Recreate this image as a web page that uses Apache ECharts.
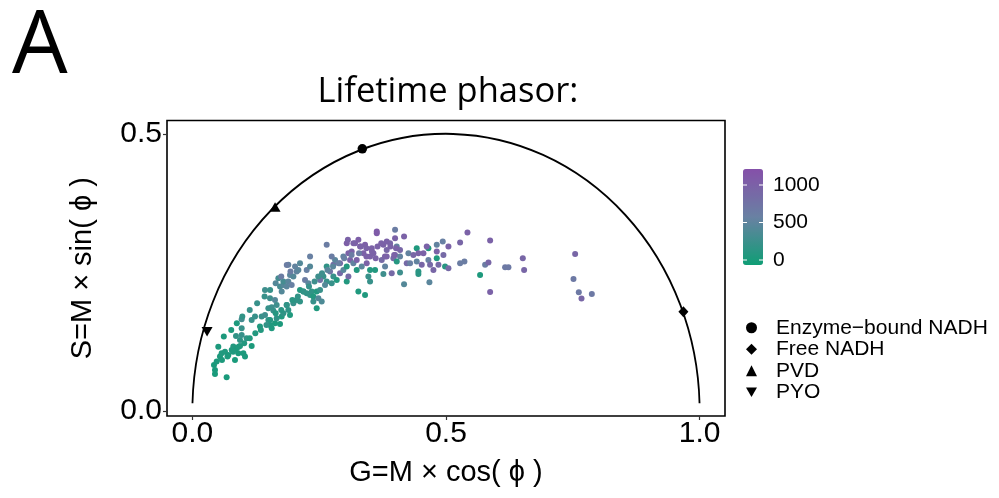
<!DOCTYPE html>
<html>
<head>
<meta charset="utf-8">
<script src="https://cdn.jsdelivr.net/npm/echarts@6/dist/echarts.min.js"></script>
<style>
html, body { margin: 0; padding: 0; background: #fff; }
#chart { width: 999px; height: 498px; }
</style>
</head>
<body>
<div id="chart"></div>
<script>
// phasor coordinates (G = x, S = y) and the colour value of each point
var gCoord = [
  0.0676,0.0446,0.0446,0.0426,0.0479,0.0544,0.0577,0.0643,0.0709,0.0775,
  0.0807,0.0873,0.0939,0.0906,0.084,0.1005,0.1038,0.1169,0.0939,0.086,
  0.0972,0.107,0.0972,0.0972,0.1169,0.1235,0.1333,0.1366,0.1432,0.1498,
  0.1531,0.1564,0.1629,0.1728,0.1662,0.1761,0.1794,0.1892,0.1925,0.1859,
  0.1991,0.2057,0.2122,0.1432,0.1531,0.1629,0.1662,0.1564,0.1498,0.1596,
  0.1728,0.1794,0.1761,0.1794,0.1695,0.1892,0.1925,0.1892,0.2024,0.2057,
  0.2122,0.209,0.1991,0.1958,0.1859,0.2254,0.232,0.232,0.2221,0.2287,
  0.2122,0.2188,0.2254,0.232,0.2353,0.2385,0.2451,0.2517,0.2484,0.255,
  0.2451,0.2385,0.2648,0.2648,0.2714,0.2583,0.2648,0.2517,0.2615,0.2747,
  0.278,0.2846,0.278,0.2813,0.2747,0.2911,0.2977,0.3043,0.3043,0.3076,
  0.2911,0.2977,0.3076,0.3109,0.3174,0.324,0.3141,0.3043,0.3207,0.3273,
  0.3306,0.3372,0.324,0.3273,0.3404,0.3339,0.3437,0.3503,0.3569,0.3404,
  0.3536,0.3635,0.3635,0.347,0.3503,0.3503,0.3602,
  0.3996,0.4173,0.3996,0.3766,0.3897,0.4029,0.3831,0.4094,0.4259,0.4423,
  0.4653,0.4818,0.4936,0.5048,0.462,0.4555,0.4818,0.4949,0.4456,0.4357,
  0.3996,0.3831,0.3733,0.3963,0.4094,0.3799,0.4029,0.4226,0.4292,0.4423,
  0.4522,0.4653,0.4686,0.4818,0.4851,0.4982,0.5048,0.4752,0.393,0.4094,
  0.3766,0.4456,0.4456,0.4173,0.4673,0.5278,0.5423,0.5278,0.5363,0.5672,
  0.5771,0.5837,0.587,0.587,0.6165,0.6231,0.6514,0.654,0.7546,0.7513,
  0.7618,0.7671,0.7875,
  0.3066,0.3175,0.3321,0.3431,0.354,0.365,0.3723,0.3832,0.3905,0.4015,
  0.3978,0.3796,0.3613,0.3431,0.3285,0.3139,0.2993,0.2883,0.2774,0.2664,
  0.2555,0.2482,0.2409,0.2299,0.219,0.208,0.1971,0.1861,0.1752,0.1642,
  0.1533,0.146,0.135,0.1241,0.1131,0.1022,0.0912,0.0803,0.0693,0.0584,
  0.1861,0.1934,0.1752,0.1642,0.1533,0.1423,0.1277,0.1131,0.0985,0.0876,
  0.0766,0.062,0.0511
];
var sCoord = [
  0.0608,0.0668,0.074,0.0831,0.0891,0.0981,0.1041,0.1071,0.1011,0.1101,
  0.1162,0.1132,0.1174,0.1041,0.0921,0.1041,0.0981,0.1174,0.1282,0.1354,
  0.1372,0.1312,0.1493,0.1655,0.1643,0.1703,0.1523,0.1703,0.1733,0.1643,
  0.1553,0.1493,0.1583,0.1571,0.1673,0.1703,0.1763,0.1823,0.1733,0.1914,
  0.1944,0.2004,0.1974,0.2184,0.2034,0.2004,0.1914,0.1872,0.1854,0.1811,
  0.2245,0.2275,0.2154,0.2335,0.2395,0.2335,0.2455,0.2636,0.2606,0.2515,
  0.2666,0.2545,0.2425,0.2275,0.2245,0.2545,0.2606,0.2786,0.2365,0.2305,
  0.2184,0.2154,0.2124,0.2094,0.2154,0.2064,0.2154,0.2184,0.2034,0.1974,
  0.1854,0.1974,0.2997,0.2606,0.2515,0.2425,0.2335,0.2365,0.2275,0.2305,
  0.2425,0.2365,0.2636,0.2726,0.2786,0.2485,0.2545,0.2606,0.2335,0.2425,
  0.2666,0.2786,0.2846,0.2726,0.2666,0.2726,0.2876,0.3027,0.3027,0.3087,
  0.2967,0.2846,0.2545,0.2154,0.2094,0.2606,0.2666,0.2786,0.2846,0.2997,
  0.2937,0.3207,0.3237,0.2425,0.2335,0.2545,0.2545,
  0.3268,0.3147,0.3117,0.2997,0.3027,0.2967,0.2906,0.2906,0.2846,0.2937,
  0.2937,0.2997,0.3057,0.2967,0.2967,0.2846,0.2876,0.2816,0.2846,0.2816,
  0.2816,0.2786,0.2726,0.2756,0.2786,0.2606,0.2696,0.2666,0.2666,0.2696,
  0.2636,0.2726,0.2636,0.2756,0.2636,0.2606,0.2576,0.2545,0.2485,0.2497,
  0.2473,0.2515,0.2473,0.2287,0.2323,0.3039,0.3219,0.2666,0.2696,0.2455,
  0.2636,0.2678,0.3075,0.2148,0.2594,0.2594,0.2756,0.2545,0.2834,0.2383,
  0.2142,0.2028,0.2112,
  0.3087,0.3026,0.2966,0.2936,0.2876,0.2966,0.3026,0.3057,0.2966,0.2936,
  0.2816,0.2786,0.2756,0.2786,0.2846,0.2816,0.2756,0.2665,0.2605,0.2545,
  0.2485,0.2425,0.2335,0.2244,0.2154,0.2064,0.2004,0.1913,0.1823,0.1763,
  0.1643,0.1552,0.1462,0.1402,0.1312,0.1221,0.1161,0.1071,0.0981,0.0921,
  0.2635,0.2515,0.2425,0.2304,0.2184,0.2064,0.1943,0.1823,0.1703,0.1582,
  0.1462,0.1342,0.1161
];
var colorValue = [
  40,40,40,40,60,60,80,80,60,80,
  100,60,80,60,40,60,60,50,200,200,
  250,200,250,350,250,250,80,250,300,200,
  80,80,60,60,200,100,200,200,80,250,
  250,200,200,300,300,450,300,300,250,250,
  350,450,450,350,350,500,500,550,550,550,
  450,500,450,600,500,600,450,600,650,500,
  100,100,200,200,200,100,100,250,450,400,
  80,250,650,200,750,250,250,800,450,250,
  250,100,900,500,650,900,500,100,100,900,
  950,550,1000,1000,550,1000,1000,1050,1050,1050,
  1000,1000,100,80,80,500,1000,1000,1000,1050,
  1000,1100,1100,250,250,100,100,
  650,1000,1000,1000,950,550,950,950,550,80,
  80,550,600,1000,1000,1000,1000,900,1000,950,
  950,1000,900,900,550,550,120,900,600,550,
  950,600,900,80,900,120,900,950,900,300,
  300,150,150,450,500,950,1000,650,650,60,
  650,950,1000,1000,700,700,950,950,950,700,
  700,950,700,
  1000,1000,1000,1000,1000,1000,1000,1000,1000,1000,
  1000,1000,1000,1000,650,650,600,600,500,500,
  300,300,300,250,200,200,150,200,150,120,
  120,200,100,100,100,100,80,80,60,60,
  650,650,650,450,250,250,250,250,200,60,
  60,60,60
];

// reference species on the universal circle
var refNames = ['Enzyme\u2212bound NADH', 'Free NADH', 'PVD', 'PYO'];
var refG = [0.335, 0.968, 0.163, 0.029];
var refS = [0.473, 0.179, 0.368, 0.143];

// universal semicircle: centre (G, S) and radius
var circleCenter = [0.5, 0];
var circleRadius = 0.5;

var xTicks = [0, 0.5, 1];
var yTicks = [0, 0.5];
var colorTicks = [0, 500, 1000];
var colorMin = -40, colorMax = 1240;

var AXIS_FONT = '"Liberation Sans", Arial, sans-serif';
var TITLE_FONT = '"Open Sans", sans-serif';
var DOWN_TRI = 'path://M0,0L10,0L5,8.66Z';

var points = gCoord.map(function (g, i) { return [g, sCoord[i], colorValue[i]]; });

// colour bar geometry (legend only)
var barLeft = 743, barTop = 167, barW = 20, barH = 96;
var barGraphics = [];
colorTicks.forEach(function (v) {
  var y = barTop + barH - (v - colorMin) / (colorMax - colorMin) * barH;
  barGraphics.push({type: 'line', shape: {x1: barLeft, y1: y, x2: barLeft + 4, y2: y}, style: {stroke: '#fff', lineWidth: 1}, z: 100});
  barGraphics.push({type: 'line', shape: {x1: barLeft + barW - 4, y1: y, x2: barLeft + barW, y2: y}, style: {stroke: '#fff', lineWidth: 1}, z: 100});
  barGraphics.push({type: 'text', x: barLeft + 30, y: y, style: {text: String(v), fill: '#000', font: '21px ' + AXIS_FONT, textVerticalAlign: 'middle', verticalAlign: 'middle'}, z: 100});
});

var chart = echarts.init(document.getElementById('chart'), null, {renderer: 'canvas'});

var option = {
  animation: false,
  backgroundColor: '#fff',
  title: [
    {text: 'A', left: 7, top: -1, textStyle: {fontFamily: TITLE_FONT, fontSize: 88, fontWeight: 'normal', color: '#000'}},
    {text: 'Lifetime phasor:', left: 443, textAlign: 'center', top: 70, textStyle: {fontFamily: TITLE_FONT, fontSize: 34.5, fontWeight: 'normal', color: '#000'}}
  ],
  grid: {
    left: 167, top: 120.5, width: 558, height: 295.5,
    show: true, borderColor: '#000', borderWidth: 1.6, backgroundColor: '#fff',
    outerBoundsMode: 'none', containLabel: false
  },
  xAxis: {
    type: 'value', min: -0.05, max: 1.05,
    axisLine: {show: false, onZero: false},
    splitLine: {show: false},
    axisTick: {show: true, length: 4, customValues: xTicks, lineStyle: {color: '#333', width: 1.2}},
    axisLabel: {customValues: xTicks, margin: 3, fontSize: 30, color: '#000', fontFamily: AXIS_FONT,
      formatter: function (v) { return v.toFixed(1); }},
    name: 'G=M \u00d7 cos( \u03d5 )', nameLocation: 'middle', nameGap: 42,
    nameTextStyle: {fontSize: 29, color: '#000', fontFamily: AXIS_FONT}
  },
  yAxis: {
    type: 'value', min: -0.009, max: 0.524,
    axisLine: {show: false, onZero: false},
    splitLine: {show: false},
    axisTick: {show: true, length: 4, customValues: yTicks, lineStyle: {color: '#333', width: 1.2}},
    axisLabel: {customValues: yTicks, margin: 5, fontSize: 30, color: '#000', fontFamily: AXIS_FONT,
      formatter: function (v) { return v.toFixed(1); }},
    name: 'S=M \u00d7 sin( \u03d5 )', nameLocation: 'middle', nameGap: 70,
    nameTextStyle: {fontSize: 29, color: '#000', fontFamily: AXIS_FONT}
  },
  visualMap: {
    type: 'continuous', min: colorMin, max: colorMax, dimension: 2, seriesIndex: 0,
    left: barLeft - 15, top: barTop - 13, itemWidth: barW, itemHeight: barH,
    calculable: false, text: null, hoverLink: false,
    inRange: {color: ['#0f9e75', '#6981a3', '#8550a9']}
  },
  legend: {
    orient: 'vertical', left: 741, top: 312, itemWidth: 11, itemHeight: 11, itemGap: 0,
    selectedMode: false,
    textStyle: {fontSize: 21, lineHeight: 21.5, color: '#000', fontFamily: AXIS_FONT, padding: [0, 0, 0, 14]},
    data: [
      {name: refNames[0], icon: 'circle'},
      {name: refNames[1], icon: 'diamond'},
      {name: refNames[2], icon: 'triangle'},
      {name: refNames[3], icon: DOWN_TRI}
    ]
  },
  graphic: barGraphics,
  series: [
    {
      type: 'scatter', name: 'points', data: points,
      symbolSize: 6, itemStyle: {opacity: 1}, z: 2
    },
    {
      type: 'custom', name: 'circle', data: [[circleCenter[0], circleCenter[1], circleRadius]], z: 3,
      renderItem: function (params, api) {
        var c = api.coord([api.value(0), api.value(1)]);
        var s = api.size([api.value(2), api.value(2)]);
        return {
          type: 'arc',
          shape: {cx: c[0], cy: c[1], r: s[0], startAngle: Math.PI + 0.028, endAngle: 2 * Math.PI - 0.028, clockwise: true},
          scaleY: s[1] / s[0], originX: c[0], originY: c[1],
          style: {stroke: '#000', lineWidth: 1.8, fill: null, strokeNoScale: true}
        };
      }
    },
    {type: 'scatter', name: refNames[0], data: [[refG[0], refS[0]]], symbol: 'circle', symbolSize: 9.5, itemStyle: {color: '#000', opacity: 1}, z: 5},
    {type: 'scatter', name: refNames[1], data: [[refG[1], refS[1]]], symbol: 'diamond', symbolSize: [10, 11], itemStyle: {color: '#000', opacity: 1}, z: 5},
    {type: 'scatter', name: refNames[2], data: [[refG[2], refS[2]]], symbol: 'triangle', symbolSize: [11, 9.5], itemStyle: {color: '#000', opacity: 1}, z: 5},
    {type: 'scatter', name: refNames[3], data: [[refG[3], refS[3]]], symbol: DOWN_TRI, symbolSize: [11, 9.5], itemStyle: {color: '#000', opacity: 1}, z: 5}
  ]
};

chart.setOption(option);
</script>
</body>
</html>
